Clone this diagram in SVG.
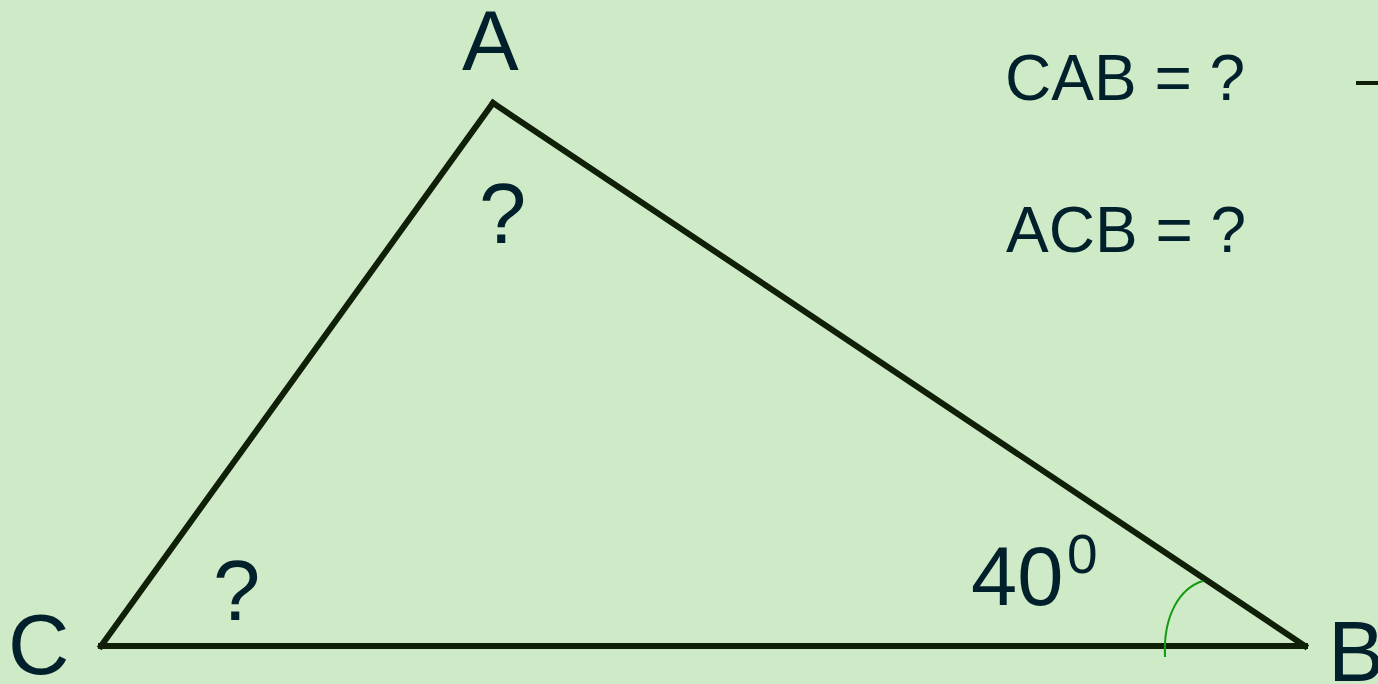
<svg xmlns="http://www.w3.org/2000/svg" width="1378" height="684" viewBox="0 0 1378 684">
<style>
.t{font-family:"Liberation Sans",Arial,sans-serif;fill:#00202B}
.big{font-size:85px}
.mid{font-size:64px}
</style>
<rect width="1378" height="684" fill="#CFEAC7"/>
<g id="connectors" stroke="#0F1F08" stroke-width="6" fill="none" stroke-linecap="square">
<line x1="493" y1="103" x2="101" y2="646"/>
<line x1="493" y1="103" x2="1305" y2="646"/>
<line x1="101" y1="646" x2="1305" y2="646"/>
</g>
<g id="angle-arc"><path d="M1165,657 C1163,615 1180,588 1203,581" fill="none" stroke="#129A12" stroke-width="2"/></g>
<g id="dash"><rect x="1356" y="81" width="22" height="4" fill="#0F1F08"/></g>
<g id="A"><text class="t big" x="462" y="70">A</text></g>
<g id="C"><text class="t big" x="8" y="674">C</text></g>
<g id="B"><text class="t big" x="1328" y="681">B</text></g>
<g id="qA"><text class="t big" x="479" y="243">?</text></g>
<g id="qC"><text class="t big" x="213" y="620">?</text></g>
<g id="angleB"><text class="t" x="971" y="605" font-size="83">40</text><text class="t" x="1067" y="573" font-size="55">0</text></g>
<g id="eq1"><text class="t mid" x="1005" y="100">CAB = ?</text></g>
<g id="eq2"><text class="t mid" x="1006" y="252">ACB = ?</text></g>
</svg>
